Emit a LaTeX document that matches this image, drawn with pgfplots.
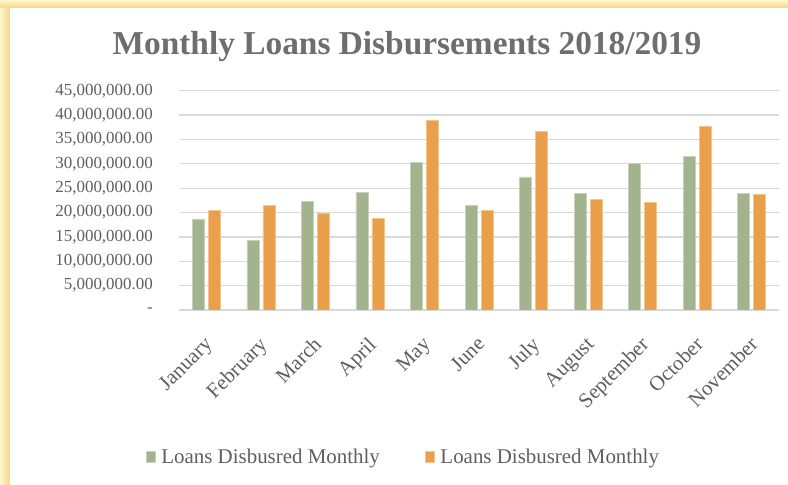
\documentclass[border=0pt]{standalone}
\usepackage{pgfplots}
\pgfplotsset{compat=1.18}
\usepackage{fontspec}
\setmainfont{Liberation Serif}
\definecolor{sage}{RGB}{162,179,142}
\definecolor{amber}{RGB}{234,159,75}
\definecolor{txt}{RGB}{95,95,95}
\definecolor{titlec}{RGB}{110,110,110}
\definecolor{gridc}{RGB}{217,217,217}
\definecolor{goldA}{RGB}{248,215,130}
\definecolor{goldB}{RGB}{255,246,205}
\begin{document}
\begin{tikzpicture}[x=1bp,y=1bp]
\path[use as bounding box] (0,0) rectangle (788,485);
\shade[left color=goldB, right color=goldA] (0,0) rectangle (10,485);
\shade[top color=goldB, bottom color=goldA] (0,477) rectangle (788,485);
\fill[white] (10,0) rectangle (788,477);
\draw[gridc, line width=1bp] (10,477) -- (788,477);
\node[anchor=base, text=titlec, font=\bfseries\fontsize{33.5}{38}\selectfont, inner sep=0pt] at (407,430) {Monthly Loans Disbursements 2018/2019};
\begin{axis}[
  at={(179bp,175bp)}, anchor=south west,
  scale only axis, width=600bp, height=219.3bp,
  ybar=4bp, bar width=12bp,
  xmin=-0.5, xmax=10.5, ymin=0, ymax=45000000,
  scaled y ticks=false,
  xtick={0,...,10},
  xticklabels={January,February,March,April,May,June,July,August,September,October,November},
  xticklabel style={xshift=-3bp, yshift=-24bp, rotate=45, anchor=north east, text=txt, font=\fontsize{21}{24}\selectfont, inner sep=1bp},
  ytick={0,5000000,10000000,15000000,20000000,25000000,30000000,35000000,40000000,45000000},
  yticklabels={{-},{5,000,000.00},{10,000,000.00},{15,000,000.00},{20,000,000.00},{25,000,000.00},{30,000,000.00},{35,000,000.00},{40,000,000.00},{45,000,000.00}},
  yticklabel style={text=txt, font=\fontsize{17}{20}\selectfont, anchor=east, inner sep=0pt, xshift=-26bp},
  ymajorgrids, grid style={gridc, line width=1.3bp},
  axis x line*=bottom, axis y line*=left,
  x axis line style={gridc, line width=1.3bp, -},
  y axis line style={draw=none},
  major tick length=0pt,
  tick style={draw=none},
  legend columns=2,
  legend style={at={(0.374,-0.670)}, anchor=center, draw=none, fill=none,
    font=\fontsize{21}{24}\selectfont, text=txt, cells={anchor=west},
    /tikz/every odd column/.append style={column sep=4bp},
    /tikz/every even column/.append style={column sep=43bp}},
  legend image code/.code={\fill[#1] (0bp,-5.5bp) rectangle (9bp,5.5bp);},
]
\addplot[fill=sage, draw=sage!60!white, line width=0.6bp] coordinates {
 (0,18700000) (1,14200000) (2,22300000) (3,24200000) (4,30300000) (5,21400000)
 (6,27300000) (7,24000000) (8,30100000) (9,31500000) (10,24000000)};
\addlegendentry{Loans Disbusred Monthly}
\addplot[fill=amber, draw=amber!60!white, line width=0.6bp] coordinates {
 (0,20400000) (1,21500000) (2,19900000) (3,18800000) (4,38900000) (5,20400000)
 (6,36700000) (7,22700000) (8,22000000) (9,37700000) (10,23700000)};
\addlegendentry{Loans Disbusred Monthly}
\end{axis}
\end{tikzpicture}
\end{document}
